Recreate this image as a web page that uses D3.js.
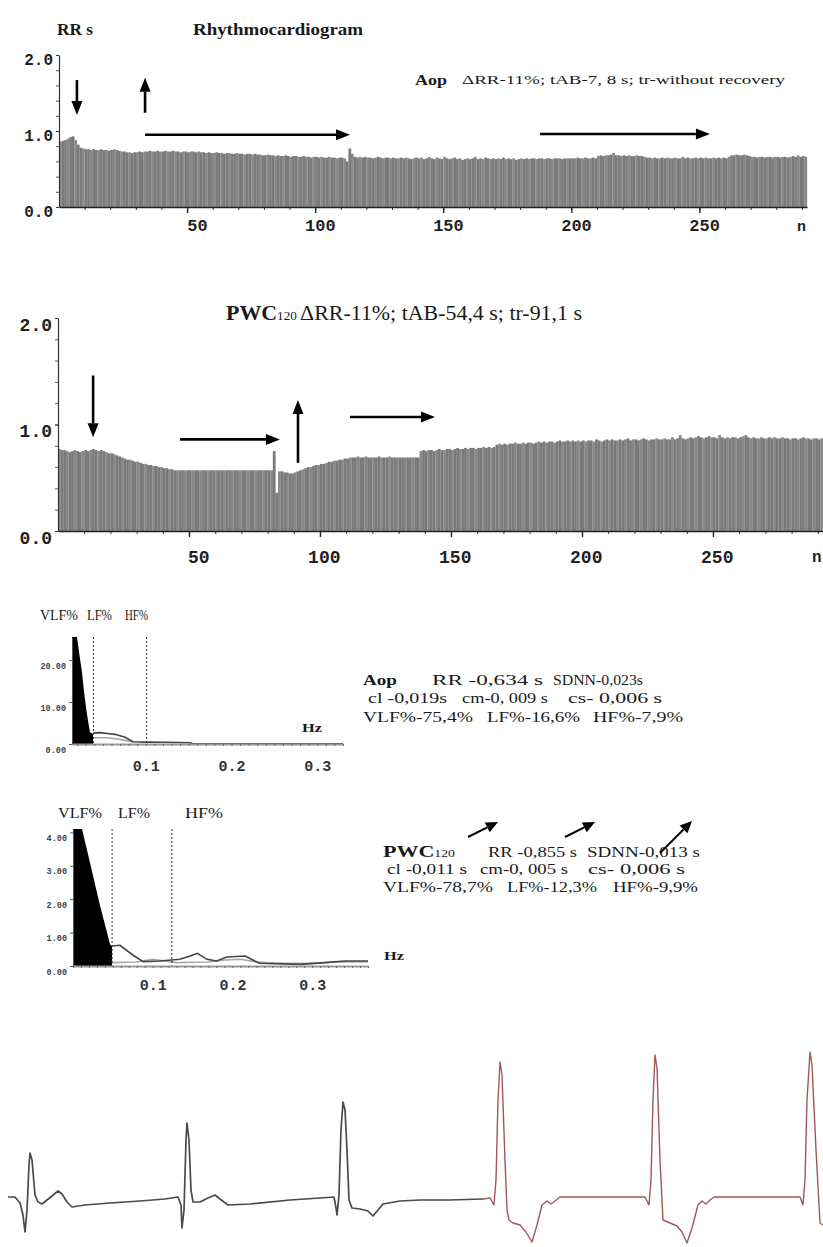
<!DOCTYPE html>
<html>
<head>
<meta charset="utf-8">
<script src="https://cdn.jsdelivr.net/npm/d3@7"></script>
<style>
  body { margin: 0; background: #fff; }
  svg { display: block; }
</style>
</head>
<body>
<div id="plot"></div>
<script>
// ---- rhythmocardiogram values (RR, s) for each cardiac cycle n ----
var rrAop = [
  0.86,0.87,0.88,0.90,0.92,0.93,0.88,0.82,0.78,0.77,
  0.76,0.76,0.75,0.76,0.75,0.75,0.76,0.75,0.75,0.74,
  0.75,0.76,0.75,0.74,0.73,0.73,0.72,0.72,0.71,0.72,
  0.72,0.73,0.72,0.73,0.73,0.74,0.73,0.73,0.74,0.73,
  0.73,0.74,0.73,0.73,0.74,0.73,0.73,0.72,0.73,0.73,
  0.72,0.73,0.73,0.72,0.73,0.72,0.72,0.71,0.72,0.71,
  0.71,0.72,0.71,0.71,0.70,0.71,0.71,0.70,0.70,0.71,
  0.70,0.70,0.69,0.70,0.70,0.69,0.70,0.69,0.69,0.68,
  0.68,0.69,0.68,0.68,0.67,0.68,0.67,0.67,0.68,0.67,
  0.66,0.67,0.67,0.66,0.66,0.67,0.66,0.66,0.65,0.66,
  0.66,0.65,0.66,0.65,0.65,0.66,0.65,0.65,0.64,0.65,
  0.65,0.64,0.60,0.77,0.70,0.66,0.65,0.66,0.65,0.66,
  0.65,0.65,0.64,0.65,0.66,0.65,0.64,0.65,0.65,0.64,
  0.65,0.64,0.64,0.65,0.64,0.65,0.64,0.63,0.64,0.65,
  0.64,0.65,0.63,0.64,0.66,0.64,0.63,0.65,0.64,0.63,
  0.66,0.64,0.63,0.64,0.65,0.63,0.64,0.62,0.63,0.64,
  0.63,0.64,0.66,0.63,0.64,0.63,0.65,0.64,0.63,0.64,
  0.63,0.64,0.63,0.65,0.63,0.64,0.63,0.64,0.62,0.63,
  0.64,0.63,0.64,0.63,0.64,0.64,0.63,0.64,0.64,0.63,
  0.64,0.64,0.63,0.64,0.64,0.64,0.63,0.64,0.64,0.64,
  0.64,0.64,0.65,0.64,0.64,0.65,0.64,0.64,0.65,0.64,
  0.67,0.68,0.67,0.68,0.68,0.69,0.71,0.68,0.68,0.67,
  0.68,0.67,0.68,0.67,0.67,0.68,0.67,0.67,0.66,0.65,
  0.65,0.64,0.65,0.64,0.64,0.65,0.64,0.65,0.64,0.64,
  0.65,0.64,0.64,0.66,0.64,0.65,0.64,0.64,0.65,0.64,
  0.65,0.64,0.65,0.64,0.64,0.65,0.64,0.65,0.64,0.65,
  0.64,0.66,0.68,0.68,0.69,0.68,0.68,0.69,0.68,0.67,
  0.66,0.66,0.65,0.66,0.66,0.65,0.66,0.66,0.65,0.66,
  0.66,0.65,0.66,0.66,0.65,0.66,0.67,0.66,0.68,0.66,
  0.67,0.66
];

var rrPwc = [
  0.77,0.76,0.76,0.75,0.74,0.75,0.76,0.75,0.74,0.75,
  0.76,0.75,0.76,0.77,0.76,0.75,0.76,0.75,0.74,0.73,
  0.73,0.72,0.71,0.70,0.69,0.68,0.67,0.67,0.66,0.65,
  0.65,0.64,0.63,0.63,0.62,0.62,0.61,0.61,0.60,0.60,
  0.59,0.59,0.58,0.58,0.57,0.57,0.57,0.57,0.57,0.57,
  0.57,0.57,0.57,0.57,0.57,0.57,0.57,0.57,0.57,0.57,
  0.57,0.57,0.57,0.57,0.57,0.57,0.57,0.57,0.57,0.57,
  0.57,0.57,0.57,0.57,0.57,0.57,0.57,0.57,0.57,0.57,
  0.57,0.57,0.75,0.36,0.56,0.56,0.55,0.55,0.54,0.54,
  0.55,0.56,0.57,0.58,0.59,0.60,0.60,0.61,0.62,0.62,
  0.63,0.63,0.64,0.65,0.65,0.66,0.66,0.67,0.67,0.68,
  0.68,0.69,0.69,0.69,0.70,0.69,0.69,0.70,0.69,0.69,
  0.69,0.69,0.70,0.69,0.69,0.69,0.70,0.69,0.69,0.69,
  0.69,0.69,0.69,0.69,0.69,0.69,0.69,0.69,0.75,0.76,
  0.75,0.76,0.76,0.75,0.76,0.77,0.76,0.76,0.77,0.77,
  0.76,0.77,0.78,0.77,0.77,0.78,0.77,0.78,0.78,0.77,
  0.78,0.78,0.79,0.78,0.79,0.78,0.79,0.81,0.82,0.81,
  0.82,0.81,0.82,0.82,0.83,0.82,0.82,0.83,0.82,0.83,
  0.83,0.82,0.83,0.84,0.83,0.84,0.83,0.84,0.84,0.83,
  0.84,0.85,0.84,0.84,0.85,0.84,0.85,0.84,0.85,0.84,
  0.85,0.84,0.85,0.85,0.84,0.86,0.85,0.84,0.85,0.86,
  0.85,0.86,0.85,0.85,0.86,0.85,0.86,0.87,0.85,0.86,
  0.86,0.85,0.86,0.87,0.86,0.85,0.86,0.86,0.87,0.86,
  0.86,0.87,0.86,0.86,0.88,0.86,0.87,0.90,0.87,0.86,
  0.87,0.88,0.87,0.88,0.89,0.88,0.87,0.88,0.89,0.88,
  0.88,0.87,0.90,0.88,0.87,0.88,0.87,0.88,0.88,0.87,
  0.88,0.89,0.90,0.88,0.87,0.88,0.87,0.87,0.88,0.87,
  0.87,0.88,0.87,0.88,0.87,0.87,0.88,0.87,0.87,0.86,
  0.87,0.87,0.86,0.87,0.88,0.87,0.87,0.86,0.87,0.87,
  0.86,0.87
];

var nTicks = [50, 100, 150, 200, 250];
var rrTicks = [0, 1, 2];

// arrows on the rhythmocardiograms, in (n, RR) units: [n0, rr0, n1, rr1]
var arrowsAop = [[7, 1.67, 7, 1.21], [33.6, 1.24, 33.6, 1.70], [33.6, 0.95, 113.6, 0.95], [187.8, 0.96, 254.1, 0.96]];
var arrowsPwc = [[13.4, 1.46, 13.4, 0.88], [46.6, 0.86, 84.7, 0.86], [91.6, 0.64, 91.6, 1.23], [111.5, 1.07, 143.9, 1.07]];

// ---- spectra (Hz, power) ----
var spec1VlfF = [0.014, 0.0198, 0.0225, 0.0257, 0.0280, 0.0303, 0.0327, 0.0350, 0.0385];
var spec1VlfP = [25.5, 25.5, 21.5, 17.0, 12.5, 8.8, 5.5, 2.8, 2.4];
var spec1LineF = [0.0385, 0.0467, 0.0548, 0.0641, 0.0758, 0.0851, 0.100, 0.120, 0.140, 0.152, 0.155, 0.33];
var spec1LineP = [2.6, 2.7, 2.5, 2.3, 1.6, 0.55, 0.45, 0.4, 0.35, 0.3, 0.05, 0.05];
var spec1Line2F = [0.0385, 0.055, 0.070, 0.085];
var spec1Line2P = [1.5, 1.5, 1.1, 0.5];
var spec1Bands = [0.039, 0.101];
var spec1YTicks = [0, 10, 20];

var spec2VlfF = [0, 0.0113, 0.0213, 0.0339, 0.0427, 0.0464, 0.049];
var spec2VlfP = [4.1, 4.1, 3.1, 1.8, 1.0, 0.65, 0.6];
var spec2LineF = [0.049, 0.059, 0.075, 0.088, 0.109, 0.134, 0.147, 0.156, 0.168, 0.180, 0.193, 0.216, 0.228, 0.234, 0.285, 0.316, 0.341, 0.37];
var spec2LineP = [0.6, 0.62, 0.33, 0.13, 0.15, 0.2, 0.3, 0.38, 0.2, 0.15, 0.27, 0.3, 0.15, 0.08, 0.05, 0.1, 0.15, 0.15];
var spec2Line2F = [0.049, 0.08, 0.10, 0.115, 0.13, 0.17, 0.19, 0.21, 0.23, 0.26, 0.30, 0.33, 0.37];
var spec2Line2P = [0.1, 0.12, 0.2, 0.15, 0.1, 0.12, 0.18, 0.2, 0.12, 0.08, 0.08, 0.12, 0.12];
var spec2Bands = [0.049, 0.124];
var spec2YTicks = [0, 1, 2, 3, 4];
var specXTicks = [0.1, 0.2, 0.3];
var bandNames = ["VLF%", "LF%", "HF%"];

var statsAop = [["RR -0,634 s", "SDNN-0,023s"], ["cl -0,019s", "cm-0, 009 s", "cs- 0,006 s"], ["VLF%-75,4%", "LF%-16,6%", "HF%-7,9%"]];
var statsPwc = [["RR -0,855 s", "SDNN-0,013 s"], ["cl -0,011 s", "cm-0, 005 s", "cs- 0,006 s"], ["VLF%-78,7%", "LF%-12,3%", "HF%-9,9%"]];

// ---- ECG (time s, amplitude mV) ----
var ecgRestT = [0.04,0.075,0.10,0.115,0.125,0.135,0.145,0.15,0.16,0.175,0.19,0.21,0.235,0.26,0.29,0.31,0.335,0.36,0.425,0.55,0.70,0.825,0.89,0.905,0.91,0.92,0.93,0.935,0.945,0.955,0.965,1.00,1.04,1.075,1.10,1.14,1.25,1.45,1.60,1.67,1.68,1.685,1.695,1.705,1.715,1.725,1.735,1.745,1.76,1.80,1.84,1.865,1.89,1.915,2.00,2.10,2.25,2.415];
var ecgRestV = [0.03,0.03,-0.03,-0.15,-0.32,-0.10,0.35,0.47,0.40,0.05,-0.02,-0.04,0.0,0.04,0.09,0.06,-0.02,-0.07,-0.05,-0.03,-0.01,0.01,0.03,-0.05,-0.28,-0.10,0.60,0.77,0.60,0.10,-0.02,-0.02,0.02,0.05,0.01,-0.05,-0.04,0.0,0.02,0.03,-0.08,-0.15,0.05,0.70,0.98,0.90,0.50,0.0,-0.08,-0.09,-0.11,-0.16,-0.10,-0.04,-0.01,0.0,0.0,0.01];
var ecgLoadT = [2.415,2.45,2.47,2.48,2.49,2.50,2.51,2.525,2.535,2.545,2.565,2.60,2.63,2.66,2.685,2.71,2.735,2.755,2.775,2.80,3.225,3.245,3.255,3.265,3.275,3.285,3.30,3.315,3.35,3.385,3.41,3.435,3.46,3.49,3.51,3.53,3.55,3.57,4.00,4.015,4.025,4.035,4.05,4.06,4.08,4.10,4.115];
var ecgLoadV = [0.01,0.02,-0.05,0.20,1.00,1.38,1.25,0.40,-0.10,-0.20,-0.23,-0.25,-0.32,-0.42,-0.25,-0.05,-0.01,-0.04,-0.01,0.03,0.03,-0.05,0.20,1.00,1.45,1.32,0.40,-0.20,-0.23,-0.26,-0.32,-0.43,-0.28,-0.05,-0.01,-0.04,0.0,0.03,0.03,-0.05,0.20,1.00,1.48,1.35,0.50,-0.23,-0.25];

var W = 823, H = 1247;
var serif = "'Liberation Serif', 'Times New Roman', serif";
var mono = "'Liberation Mono', 'DejaVu Sans Mono', monospace";

var svg = d3.select("#plot")
  .append("svg")
    .attr("width", W)
    .attr("height", H);

svg.append("rect").attr("width", W).attr("height", H).attr("fill", "#fff");

function label(x, y, txt, size, len, weight) {
  var t = svg.append("text")
    .attr("x", x).attr("y", y)
    .style("font-family", serif)
    .style("font-size", size + "px")
    .style("font-weight", weight || "normal")
    .style("fill", "#1a1a1a")
    .text(txt);
  if (len) t.attr("textLength", len).attr("lengthAdjust", "spacingAndGlyphs");
  return t;
}

function arrow(g, x1, y1, x2, y2, head, w, sw) {
  var a = Math.atan2(y2 - y1, x2 - x1);
  var bx = x2 - head * Math.cos(a), by = y2 - head * Math.sin(a);
  var px = -Math.sin(a) * w / 2, py = Math.cos(a) * w / 2;
  g.append("line")
    .attr("x1", x1).attr("y1", y1).attr("x2", bx).attr("y2", by)
    .attr("stroke", "#000").attr("stroke-width", sw);
  g.append("polygon")
    .attr("points", [[x2, y2], [bx + px, by + py], [bx - px, by - py]].map(function(p) { return p.join(","); }).join(" "))
    .attr("fill", "#000");
}

// ---------------- rhythmocardiogram ----------------
function rhythmo(data, x, y, arrows, o) {
  var g = svg.append("g");
  var step = x(1) - x(0);

  g.selectAll("rect.bar")
    .data(data)
    .enter()
    .append("rect")
      .attr("class", "bar")
      .attr("x", function(d, i) { return x(i); })
      .attr("y", function(d) { return y(d); })
      .attr("width", step + 0.15)
      .attr("height", function(d) { return y(0) - y(d); })
      .style("fill", function(d, i) { return i % 3 === 0 ? "#888" : "#7a7a7a"; });

  // minor ticks every 10 cycles
  g.append("g")
    .attr("transform", "translate(0," + y(0) + ")")
    .call(d3.axisBottom(x).tickValues(d3.range(10, data.length, 10)).tickSize(3).tickFormat(""))
    .call(function(s) { s.select(".domain").remove(); s.selectAll("line").attr("stroke", "#333"); });

  var xa = g.append("g")
    .attr("transform", "translate(0," + y(0) + ")")
    .call(d3.axisBottom(x).tickValues(nTicks).tickSize(6).tickSizeOuter(0));
  xa.select(".domain").attr("stroke", "#222").attr("stroke-width", 1.6);
  xa.selectAll("line").attr("stroke", "#222").attr("stroke-width", 1.4);
  xa.selectAll("text")
    .attr("x", 20).attr("y", o.xLabelY).attr("dy", 0)
    .attr("text-anchor", "end")
    .style("font-family", mono).style("font-weight", "bold")
    .style("font-size", o.xFont + "px").style("fill", "#222");

  g.append("g")
    .attr("transform", "translate(" + x(0) + ",0)")
    .call(d3.axisLeft(y).ticks(8).tickSize(3).tickFormat(""))
    .call(function(s) { s.select(".domain").remove(); s.selectAll("line").attr("stroke", "#555"); });

  var ya = g.append("g")
    .attr("transform", "translate(" + x(0) + ",0)")
    .call(d3.axisLeft(y).tickValues(rrTicks).tickSize(3).tickSizeOuter(0).tickFormat(d3.format(".1f")));
  ya.select(".domain").attr("stroke", "#333").attr("stroke-width", 1.2);
  ya.selectAll("line").attr("stroke", "#333");
  ya.selectAll("text")
    .attr("dy", o.yLabelDy)
    .style("font-family", mono).style("font-weight", "bold")
    .style("font-size", o.yFont + "px").style("fill", "#222");

  arrows.forEach(function(a) {
    arrow(g, x(a[0]), y(a[1]), x(a[2]), y(a[3]), 14, 11, 2.6);
  });
  return g;
}

var xTop = d3.scaleLinear().domain([0, 292]).range([59, 807]);
var yTop = d3.scaleLinear().domain([0, 2]).range([207, 55]);
rhythmo(rrAop, xTop, yTop, arrowsAop, { xLabelY: 24, xFont: 17, yLabelDy: 9, yFont: 16 });
svg.append("text").attr("x", 797).attr("y", 231)
  .style("font-family", mono).style("font-weight", "bold").style("font-size", "15px").style("fill", "#222").text("n");

var xMid = d3.scaleLinear().domain([0, 292]).range([58, 823]);
var yMid = d3.scaleLinear().domain([0, 2]).range([531, 318]);
rhythmo(rrPwc, xMid, yMid, arrowsPwc, { xLabelY: 32, xFont: 18, yLabelDy: 12, yFont: 18 });
svg.append("text").attr("x", 812).attr("y", 562)
  .style("font-family", mono).style("font-weight", "bold").style("font-size", "16px").style("fill", "#222").text("n");

// titles
label(57, 35, "RR s", 16, 36, "bold");
label(193, 35, "Rhythmocardiogram", 16, 170, "bold");
label(415, 85, "Aop", 15, 32, "bold");
label(462, 84, "ΔRR-11%; tAB-7, 8 s; tr-without recovery", 12, 323);

var t2 = svg.append("text")
  .attr("x", 226).attr("y", 320)
  .attr("textLength", 356).attr("lengthAdjust", "spacingAndGlyphs")
  .style("font-family", serif).style("font-size", "20px").style("fill", "#1a1a1a");
t2.append("tspan").style("font-weight", "bold").text("PWC");
t2.append("tspan").style("font-size", "12px").text("120 ");
t2.append("tspan").text("ΔRR-11%; tAB-54,4 s; tr-91,1 s");

// ---------------- spectra ----------------
function spectrum(x, y, vlfF, vlfP, lineF, lineP, line2F, line2P, bands, yTicks, o) {
  var g = svg.append("g");
  var pts = function(f, p) { return f.map(function(d, i) { return [d, p[i]]; }); };

  g.append("path")
    .datum(pts(vlfF, vlfP))
    .attr("d", d3.area().x(function(d) { return x(d[0]); }).y0(y(0)).y1(function(d) { return y(d[1]); }))
    .attr("fill", "#000");

  var line = d3.line().x(function(d) { return x(d[0]); }).y(function(d) { return y(d[1]); });
  g.append("path").datum(pts(line2F, line2P)).attr("d", line)
    .attr("fill", "none").attr("stroke", "#a8a8a8").attr("stroke-width", 1.6);
  g.append("path").datum(pts(lineF, lineP)).attr("d", line)
    .attr("fill", "none").attr("stroke", "#444").attr("stroke-width", 1.6);

  g.selectAll("line.band")
    .data(bands)
    .enter()
    .append("line")
      .attr("class", "band")
      .attr("x1", function(d) { return x(d); }).attr("x2", function(d) { return x(d); })
      .attr("y1", y.range()[1]).attr("y2", y(0))
      .attr("stroke", "#333").attr("stroke-width", 1).attr("stroke-dasharray", "2,2");

  var xm = g.append("g")
    .attr("transform", "translate(0," + y(0) + ")")
    .call(d3.axisBottom(x).tickValues(x.ticks(35)).tickSize(2).tickSizeOuter(0).tickFormat(""));
  xm.select(".domain").attr("stroke", "#999").attr("stroke-width", 2);
  xm.selectAll("line").attr("stroke", "#666");

  var xa = g.append("g")
    .attr("transform", "translate(0," + y(0) + ")")
    .call(d3.axisBottom(x).tickValues(specXTicks).tickSize(0).tickFormat(d3.format(".1f")));
  xa.select(".domain").remove();
  xa.selectAll("text")
    .attr("y", o.xLabelY).attr("dy", 0)
    .style("font-family", mono).style("font-weight", "bold")
    .style("font-size", "15px").style("fill", "#333");

  var ya = g.append("g")
    .attr("transform", "translate(" + x.range()[0] + ",0)")
    .call(d3.axisLeft(y).tickValues(yTicks).tickSize(3).tickSizeOuter(0).tickPadding(3).tickFormat(d3.format(".2f")));
  ya.select(".domain").attr("stroke", "#555");
  ya.selectAll("line").attr("stroke", "#555");
  ya.selectAll("text")
    .attr("dy", 8)
    .style("font-family", mono).style("font-weight", "bold")
    .style("font-size", "8.5px").style("fill", "#444");

  o.names.forEach(function(n, i) {
    label(n[0], o.namesY, bandNames[i], o.namesSize, n[1]);
  });
  label(o.hz[0], o.hz[1], "Hz", 13, 20, "bold");
  return g;
}

var xs1 = d3.scaleLinear().domain([0.014, 0.33]).range([72, 343]);
var ys1 = d3.scaleLinear().domain([0, 25.5]).range([744, 637]);
spectrum(xs1, ys1, spec1VlfF, spec1VlfP, spec1LineF, spec1LineP, spec1Line2F, spec1Line2P, spec1Bands, spec1YTicks,
  { xLabelY: 27, names: [[40, 38], [87, 25], [125, 23]], namesY: 620, namesSize: 14, hz: [302, 732] });

var xs2 = d3.scaleLinear().domain([0, 0.37]).range([73, 368]);
var ys2 = d3.scaleLinear().domain([0, 4.1]).range([966, 829]);
spectrum(xs2, ys2, spec2VlfF, spec2VlfP, spec2LineF, spec2LineP, spec2Line2F, spec2Line2P, spec2Bands, spec2YTicks,
  { xLabelY: 24, names: [[58, 44], [118, 32], [185, 38]], namesY: 818, namesSize: 15, hz: [384, 960] });

// stats text beside the spectra
label(363, 685, "Aop", 15, 34, "bold");
label(432, 685, statsAop[0][0], 15, 111);
label(553, 685, statsAop[0][1], 15, 90);
label(368, 703, statsAop[1][0], 15, 79);
label(462, 703, statsAop[1][1], 15, 86);
label(568, 703, statsAop[1][2], 15, 94);
label(363, 722, statsAop[2][0], 15, 110);
label(487, 722, statsAop[2][1], 15, 93);
label(593, 722, statsAop[2][2], 15, 90);

var p2 = svg.append("text").attr("x", 383).attr("y", 857)
  .attr("textLength", 72).attr("lengthAdjust", "spacingAndGlyphs")
  .style("font-family", serif).style("font-size", "16px").style("font-weight", "bold").style("fill", "#1a1a1a");
p2.append("tspan").text("PWC");
p2.append("tspan").style("font-size", "10px").style("font-weight", "normal").text("120");
label(488, 857, statsPwc[0][0], 15, 89);
label(587, 857, statsPwc[0][1], 15, 113);
label(387, 874, statsPwc[1][0], 15, 80);
label(480, 874, statsPwc[1][1], 15, 88);
label(588, 874, statsPwc[1][2], 15, 97);
label(383, 892, statsPwc[2][0], 15, 110);
label(507, 892, statsPwc[2][1], 15, 90);
label(613, 892, statsPwc[2][2], 15, 85);

var ga = svg.append("g");
arrow(ga, 468, 837, 498, 822, 12, 11, 2);
arrow(ga, 565, 837, 595, 822, 12, 11, 2);
arrow(ga, 660, 853, 692, 821, 12, 11, 2);

// ---------------- ECG ----------------
var xE = d3.scaleLinear().domain([0, 4.115]).range([0, 823]);
var yE = d3.scaleLinear().domain([-0.5, 1.6]).range([1250, 1040]);
var ecgLine = d3.line().x(function(d) { return xE(d[0]); }).y(function(d) { return yE(d[1]); });

svg.append("path")
  .datum(ecgRestT.map(function(t, i) { return [t, ecgRestV[i]]; }))
  .attr("d", ecgLine)
  .attr("fill", "none").attr("stroke", "#4a4a4a").attr("stroke-width", 1.7).attr("stroke-linejoin", "round");

svg.append("path")
  .datum(ecgLoadT.map(function(t, i) { return [t, ecgLoadV[i]]; }))
  .attr("d", ecgLine)
  .attr("fill", "none").attr("stroke", "#a0585c").attr("stroke-width", 1.4).attr("stroke-linejoin", "round");
</script>
</body>
</html>
